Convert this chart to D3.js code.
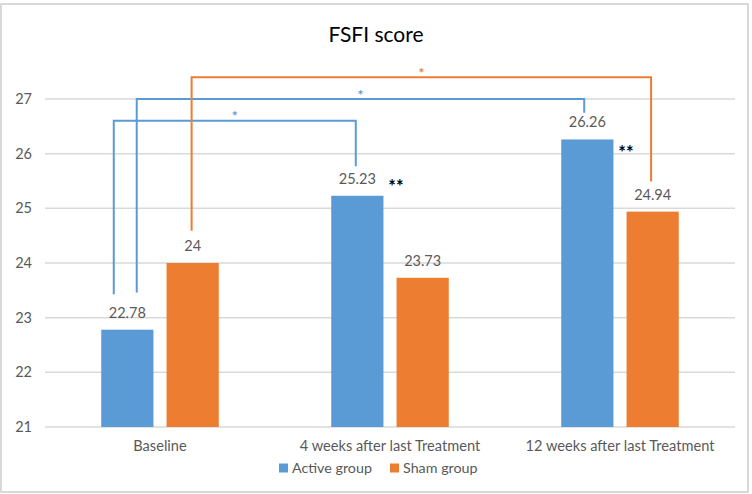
<!DOCTYPE html>
<html>
<head>
<meta charset="utf-8">
<script src="https://cdn.jsdelivr.net/npm/d3@7"></script>
<style>
  html, body { margin: 0; padding: 0; background: #fff; }
  svg { display: block; font-family: Lato, "Open Sans", sans-serif; }
</style>
</head>
<body>
<svg id="chart" width="752" height="494"></svg>
<script>
// ---- data ----
const title = "FSFI score";
const categories = ["Baseline", "4 weeks after last Treatment", "12 weeks after last Treatment"];
const seriesNames = ["Active group", "Sham group"];
const activeValues = [22.78, 25.23, 26.26];
const shamValues = [24, 23.73, 24.94];
const yTicks = [21, 22, 23, 24, 25, 26, 27];
const colors = ["#5B9BD5", "#ED7D31"];

// significance brackets (values in y-units, endpoints reference category/series)
const bracketFrom = [
  { cat: 0, series: 0, shift: -0.26 },
  { cat: 0, series: 0, shift: 0.18 },
  { cat: 0, series: 1, shift: -0.02 }
];
const bracketTo = [
  { cat: 1, series: 0, shift: -0.03 },
  { cat: 2, series: 0, shift: -0.06 },
  { cat: 2, series: 1, shift: -0.03 }
];
const bracketLevel = [26.6, 27.0, 27.4];
const bracketFromEnd = [23.43, 23.46, 24.59];
const bracketToEnd = [25.77, 26.75, 25.49];
const bracketSeries = [0, 0, 1];
const bracketLabel = ["*", "*", "*"];
const pairMarks = [{ cat: 1, label: "**", value: 25.47 }, { cat: 2, label: "**", value: 26.08 }];

// ---- layout ----
(function () {
const svg = d3.select("#chart");
const pLeft = 45, pRight = 735, pTop = 99, pBottom = 427;
const textColor = "#595959";

svg.append("rect").attr("x", 1).attr("y", 4).attr("width", 747).attr("height", 488)
  .attr("fill", "#fff").attr("stroke", "#D9D9D9").attr("stroke-width", 2);

const x = d3.scaleBand().domain(d3.range(categories.length)).range([pLeft, pRight]).padding(0);
const y = d3.scaleLinear().domain([21, 27]).range([pBottom, pTop]);
const step = x.bandwidth();
const barW = step * 0.227;
const gap = step * 0.057;
function barX(cat, s) {
  const c = x(cat) + step / 2;
  return s === 0 ? c - gap / 2 - barW : c + gap / 2;
}
function barCenter(cat, s, shift) { return barX(cat, s) + barW / 2 + (shift || 0) * barW; }

// gridlines
svg.append("g").selectAll("line").data(yTicks).join("line")
  .attr("x1", pLeft).attr("x2", pRight)
  .attr("y1", d => y(d)).attr("y2", d => y(d))
  .attr("stroke", "#D9D9D9").attr("stroke-width", 1.5);

// y axis labels
const yAxis = d3.axisLeft(y).tickValues(yTicks).tickSize(0).tickPadding(0).tickFormat(d3.format("d"));
const yg = svg.append("g").attr("transform", `translate(${pLeft - 13},0)`).call(yAxis);
yg.select(".domain").remove();
yg.selectAll("text").attr("fill", textColor).attr("font-size", 14.5).attr("font-family", "Lato, sans-serif");

// x axis labels
const xAxis = d3.axisBottom(x).tickSize(0).tickPadding(0).tickFormat(i => categories[i]);
const xg = svg.append("g").attr("transform", `translate(0,${pBottom + 14})`).call(xAxis);
xg.select(".domain").remove();
xg.selectAll("text").attr("fill", textColor).attr("font-size", 14.6).attr("font-family", "Lato, sans-serif");

// bars
const series = [activeValues, shamValues];
series.forEach((vals, s) => {
  const g = svg.append("g");
  g.selectAll("rect").data(vals).join("rect")
    .attr("x", (d, i) => barX(i, s))
    .attr("width", barW)
    .attr("y", d => y(d))
    .attr("height", d => y(21) - y(d))
    .attr("fill", colors[s]);
  g.selectAll("text").data(vals).join("text")
    .attr("x", (d, i) => barX(i, s) + barW / 2)
    .attr("y", d => y(d) - 12)
    .attr("text-anchor", "middle")
    .attr("fill", textColor).attr("font-size", 14.5)
    .text(d => String(d));
});

// brackets
bracketLevel.forEach((lv, k) => {
  const x1 = barCenter(bracketFrom[k].cat, bracketFrom[k].series, bracketFrom[k].shift);
  const x2 = barCenter(bracketTo[k].cat, bracketTo[k].series, bracketTo[k].shift);
  const col = colors[bracketSeries[k]];
  svg.append("path")
    .attr("d", `M${x1},${y(bracketFromEnd[k])}V${y(lv)}H${x2}V${y(bracketToEnd[k])}`)
    .attr("fill", "none").attr("stroke", col).attr("stroke-width", 2);
  svg.append("text")
    .attr("x", (x1 + x2) / 2).attr("y", y(lv) + 0.5)
    .attr("text-anchor", "middle").attr("fill", col)
    .attr("font-size", 14).attr("font-weight", "bold")
    .text(bracketLabel[k]);
});

// ** marks between paired bars
svg.append("g").selectAll("text").data(pairMarks).join("text")
  .attr("x", d => x(d.cat) + step / 2 + 6)
  .attr("y", d => y(d.value) + 10)
  .attr("text-anchor", "middle").attr("fill", "#000")
  .attr("font-size", 18).attr("font-weight", "bold")
  .text(d => d.label);

// title
svg.append("text").attr("x", 376).attr("y", 42).attr("text-anchor", "middle")
  .attr("fill", "#000").attr("font-size", 21).text(title);

// legend
const legend = svg.append("g");
const legX = [279, 390];
seriesNames.forEach((n, s) => {
  legend.append("rect").attr("x", legX[s]).attr("y", 463.5).attr("width", 9).attr("height", 9).attr("fill", colors[s]);
  legend.append("text").attr("x", legX[s] + 13).attr("y", 473).attr("fill", textColor)
    .attr("font-size", 14.3).text(n);
});
})();
</script>
</body>
</html>
